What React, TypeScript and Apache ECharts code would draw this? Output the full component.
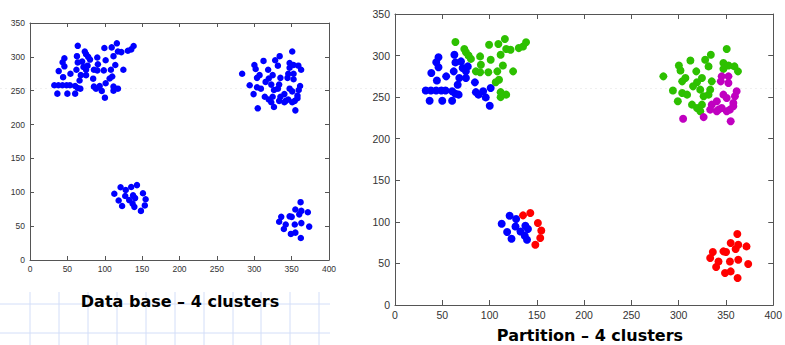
import React, { useEffect, useRef } from "react";
import * as echarts from "echarts";

// Cluster data (x, y)
const upperLeftBlue: number[][] = [
  [46, 298], [43.6, 292], [46, 286], [38.4, 279], [44.3, 270],
  [32.5, 258], [38, 258], [43.5, 258], [49, 258], [53.4, 258],
  [36.6, 245.7], [50, 245.7], [60.4, 245.7], [62.8, 301], [63.9, 291.8],
  [69.8, 293], [62.1, 281], [54.1, 275], [71.5, 285], [75, 281],
  [68, 273], [75, 273], [66.3, 265], [60.4, 257], [63.9, 254],
  [67.3, 253], [84.5, 267.8], [85.5, 256], [88.3, 253], [93.2, 257],
  [96, 249.7], [101.2, 261], [100.2, 239.7], [77, 287],
];
const upperLeftGreen: number[][] = [
  [63.9, 316.3], [73.3, 308], [75, 304], [77.8, 300], [80.3, 296],
  [90, 299], [99.5, 313], [101.2, 295], [109.3, 314], [116.2, 320],
  [117.6, 308], [111.7, 301], [122.2, 307], [130.9, 309], [135.4, 311],
  [138.6, 316], [114.1, 288], [90.8, 289], [85.5, 281], [90, 280],
  [98.7, 280], [108.2, 281], [124.9, 281], [110, 271], [106.5, 268],
  [111.7, 256], [117.6, 253], [111.7, 250],
];
const upperRightGreen: number[][] = [
  [283.8, 275], [293.9, 258], [299.1, 245], [300.2, 288], [301.9, 282],
  [312.4, 294], [303.7, 269], [307.1, 273], [303.7, 255], [308.9, 253],
  [318.6, 281], [319.4, 268], [315.2, 263], [324.6, 273], [322.8, 259],
  [328, 295], [334, 301], [331.6, 287], [335, 269], [326.4, 251],
  [319.4, 237], [322.8, 233], [331.6, 253], [350.8, 308], [347.3, 291],
  [352.6, 288], [347.3, 284], [359, 287], [362.7, 281], [314.1, 241],
  [333.3, 259], [324.6, 241],
];
const upperRightMagenta: number[][] = [
  [345.5, 275], [344.5, 269], [352.6, 275], [352.6, 267], [361.3, 257],
  [359.5, 251], [347.3, 253], [350.8, 249], [357.8, 243], [354.2, 235],
  [340.3, 245], [335, 241], [333.3, 235], [342.1, 235], [345.5, 237],
  [340.3, 233], [350.8, 233], [326.4, 226], [304.7, 224], [355, 221],
  [357.8, 239],
];
const lowerLeftBlue: number[][] = [
  [112.8, 97.8], [121.2, 107.4], [128.1, 103.4], [118.6, 87.8], [123.2, 79.7],
  [127.4, 94.5], [132.7, 88.5], [137.9, 95.4], [140.6, 91.4], [137.2, 83.3],
  [139.6, 78.5],
];
const lowerLeftRed: number[][] = [
  [135.4, 107.8], [143.1, 110.6], [151.1, 98.6], [154.7, 89.7], [153.6, 80.6],
  [148.4, 72.5],
];
const lowerRightRed: number[][] = [
  [362, 85.4], [355, 74.6], [363, 72.5], [360.2, 67.4], [371.7, 70.5],
  [336.1, 63.7], [347.3, 64.5], [350.1, 63.7], [333.3, 56.5], [342.1, 52.4],
  [354.2, 52.4], [363, 54.5], [339.6, 45.7], [373.5, 49.3], [349, 38.5],
  [355, 40.4], [362.3, 32.5],
];

const xTicks = { min: 0, max: 400, interval: 50 };
const yTicks = { min: 0, max: 350, interval: 50 };
const leftTitle = "Data base – 4 clusters";
const rightTitle = "Partition – 4 clusters";

const AXIS_COLOR = "#555";
const LABEL_COLOR = "#333";

function axesFor(grid: number, fontSize: number, tickLen: number) {
  const base = (show: boolean, margin: number) => ({
    gridIndex: grid,
    type: "value" as const,
    axisLine: { show: true, onZero: false, lineStyle: { color: AXIS_COLOR, width: 1 } },
    axisTick: { show: true, inside: true, length: tickLen, lineStyle: { color: AXIS_COLOR } },
    axisLabel: {
      show,
      color: LABEL_COLOR,
      fontSize,
      fontFamily: "Liberation Sans, Arial, sans-serif",
      margin,
      showMaxLabel: true,
      showMinLabel: true,
    },
    splitLine: { show: false },
  });
  const x = [
    { ...base(true, 4), ...xTicks, position: "bottom" },
    { ...base(false, 4), ...xTicks, position: "top" },
  ];
  const y = [
    { ...base(true, 5), ...yTicks, position: "left" },
    { ...base(false, 5), ...yTicks, position: "right" },
  ];
  return { x, y };
}

export default function App() {
  const ref = useRef<HTMLDivElement>(null);
  useEffect(() => {
    if (!ref.current) return;
    const chart = echarts.init(ref.current, undefined, { renderer: "svg" });
    const a0 = axesFor(0, 8.5, 4);
    const a1 = axesFor(1, 10.5, 5);
    const allPoints = [
      ...upperLeftBlue, ...upperLeftGreen, ...upperRightGreen, ...upperRightMagenta,
      ...lowerLeftBlue, ...lowerLeftRed, ...lowerRightRed,
    ];

    const paperLines: any[] = [];
    const vx = [30, 59, 88, 117, 146, 175, 204, 233, 261, 290, 319];
    vx.forEach((x) =>
      paperLines.push({
        type: "line",
        z: 0,
        shape: { x1: x, y1: 292, x2: x, y2: 345 },
        style: { stroke: "#d3def8", lineWidth: 1 },
      })
    );
    [304, 333].forEach((y) =>
      paperLines.push({
        type: "line",
        z: 0,
        shape: { x1: 0, y1: y, x2: 330, y2: y },
        style: { stroke: "#d3def8", lineWidth: 1 },
      })
    );

    const dot = (color: string) => ({ color, opacity: 1 });

    chart.setOption({
      animation: false,
      backgroundColor: "#ffffff",
      grid: [
        { left: 30, top: 23, width: 299, height: 237, containLabel: false },
        { left: 395, top: 14, width: 382, height: 291, containLabel: false },
      ],
      xAxis: [
        a0.x[0], a0.x[1],
        { ...a1.x[0], gridIndex: 1 }, { ...a1.x[1], gridIndex: 1 },
      ],
      yAxis: [
        a0.y[0], a0.y[1],
        { ...a1.y[0], gridIndex: 1 }, { ...a1.y[1], gridIndex: 1 },
      ],
      graphic: [
        ...paperLines,
        {
          type: "line",
          z: 0,
          shape: { x1: 0, y1: 88.5, x2: 785, y2: 88.5 },
          style: { stroke: "#efefef", lineWidth: 1, lineDash: [2, 3] },
        },
        {
          type: "text",
          z: 10,
          x: 180,
          y: 301,
          style: {
            text: leftTitle,
            font: "bold 16px 'DejaVu Sans', Verdana, sans-serif",
            fill: "#000",
            align: "center",
            verticalAlign: "middle",
          },
        },
        {
          type: "text",
          z: 10,
          x: 590,
          y: 335.5,
          style: {
            text: rightTitle,
            font: "bold 16px 'DejaVu Sans', Verdana, sans-serif",
            fill: "#000",
            align: "center",
            verticalAlign: "middle",
          },
        },
      ],
      series: [
        {
          type: "scatter",
          xAxisIndex: 0,
          yAxisIndex: 0,
          symbolSize: 6.5,
          itemStyle: dot("#0000ff"),
          data: allPoints,
        },
        {
          type: "scatter", xAxisIndex: 2, yAxisIndex: 2, symbolSize: 8,
          itemStyle: dot("#0000ff"),
          data: [...upperLeftBlue, ...lowerLeftBlue],
        },
        {
          type: "scatter", xAxisIndex: 2, yAxisIndex: 2, symbolSize: 8,
          itemStyle: dot("#2dc000"),
          data: [...upperLeftGreen, ...upperRightGreen],
        },
        {
          type: "scatter", xAxisIndex: 2, yAxisIndex: 2, symbolSize: 8,
          itemStyle: dot("#c000c0"),
          data: upperRightMagenta,
        },
        {
          type: "scatter", xAxisIndex: 2, yAxisIndex: 2, symbolSize: 8,
          itemStyle: dot("#ff0000"),
          data: [...lowerLeftRed, ...lowerRightRed],
        },
      ],
    });
    return () => chart.dispose();
  }, []);
  return (
    <div
      ref={ref}
      style={{ position: "fixed", left: 0, top: 0, width: 785, height: 345, background: "#fff" }}
    />
  );
}
